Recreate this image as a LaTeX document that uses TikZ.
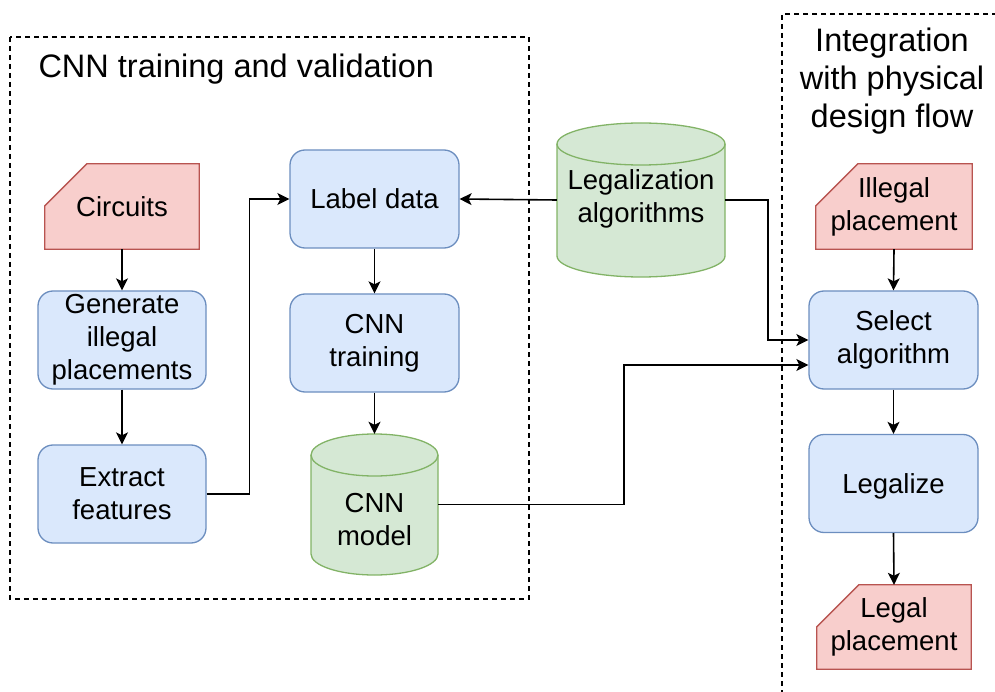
\documentclass[tikz,border=0pt]{standalone}
\usepackage{fontspec}
\setmainfont{Liberation Sans}
\usetikzlibrary{arrows.meta,calc}
\pgfdeclarelayer{bg}
\pgfsetlayers{bg,main}
\definecolor{bluefill}{HTML}{DAE8FC}
\definecolor{bluedraw}{HTML}{6C8EBF}
\definecolor{greenfill}{HTML}{D5E8D4}
\definecolor{greendraw}{HTML}{82B366}
\definecolor{redfill}{HTML}{F8CECC}
\definecolor{reddraw}{HTML}{B85450}
\tikzset{
  nodefont/.style={font=\fontsize{27.5}{33}\selectfont},
  titlefont/.style={font=\fontsize{32.5}{38}\selectfont},
  procbox/.style={nodefont, draw=bluedraw, fill=bluefill, line width=1.3pt, rounded corners=15pt,
    minimum width=168pt, minimum height=98pt, align=center, inner sep=0pt},
  cardnode/.style={nodefont, minimum width=155pt, minimum height=85pt, align=center, inner sep=0pt},
  cardshape/.style={draw=reddraw, fill=redfill, line width=1.3pt},
  cylshape/.style={draw=greendraw, fill=greenfill, line width=1.3pt},
  cylnode/.style={nodefont, align=center, inner sep=0pt},
  conn/.style={line width=1.6pt, -{Stealth[length=12pt,width=12pt,inset=3pt]}},
  frame/.style={line width=1.4pt, dash pattern=on 5pt off 4pt},
}
\begin{document}
\begin{tikzpicture}[x=1pt,y=-1pt]
\useasboundingbox (0,0) rectangle (995,692);

% frames
\draw[frame] (10,37) rectangle (529,599);
\draw[frame] (997,14) -- (782,14) -- (782,700);
\node[titlefont, anchor=base west] (t1) at (35,78) {CNN training and validation};
\node[titlefont, align=center] (t2) at (892,81.5) {Integration\\with physical\\design flow};

% blue boxes
\node[procbox] (gen) at (122,340) {Generate\\illegal\\placements};
\node[procbox] (ext) at (122,494) {Extract\\features};
\node[procbox, minimum width=169pt] (lab) at (374.5,199) {Label data};
\node[procbox, minimum width=169pt] (trn) at (374.5,343) {CNN\\training};
\node[procbox, minimum width=169pt, minimum height=98pt] (sel) at (893.5,340) {Select\\algorithm};
\node[procbox, minimum width=169pt, minimum height=98pt, text depth=0pt] (lgz) at (893.5,483.5) {Legalize};

% cards
\node[cardnode, minimum width=154pt] (circ) at (122,206.5) {Circuits};
\node[cardnode, minimum width=156pt] (ill) at (894,206.5) {Illegal\\placement};
\node[cardnode, minimum width=154pt, minimum height=84pt] (leg) at (894,627) {Legal\\placement};
\begin{pgfonlayer}{bg}
\foreach \c in {circ,ill,leg}{
  \draw[cardshape] ($(\c.north west)+(0,42)$) -- ($(\c.north west)+(42,0)$) -- (\c.north east)
    -- (\c.south east) -- (\c.south west) -- cycle;
}
% cylinder: legalization algorithms
\draw[cylshape] (557,144) -- (557,256) arc[start angle=180,end angle=360,x radius=84pt,y radius=21pt]
  -- (725,144) arc[start angle=0,end angle=180,x radius=84pt,y radius=21pt] -- cycle;
\draw[greendraw, line width=1.3pt] (557,144) arc[start angle=180,end angle=360,x radius=84pt,y radius=21pt];
% cylinder: CNN model
\draw[cylshape] (311,455) -- (311,554) arc[start angle=180,end angle=360,x radius=63.5pt,y radius=21pt]
  -- (438,455) arc[start angle=0,end angle=180,x radius=63.5pt,y radius=21pt] -- cycle;
\draw[greendraw, line width=1.3pt] (311,455) arc[start angle=180,end angle=360,x radius=63.5pt,y radius=21pt];
\end{pgfonlayer}
\node[minimum width=168pt, minimum height=154pt, inner sep=0pt] (lga) at (641,200) {};
\node[cylnode] (lgatext) at (641,199) {Legalization\\algorithms};
\node[minimum width=127pt, minimum height=141pt, inner sep=0pt] (mdl) at (374.5,504.5) {};
\node[cylnode] (mdltext) at (374.5,520) {CNN\\model};

% connectors
\draw[conn] (circ.south) -- (gen.north);
\draw[conn] (gen.south) -- (ext.north);
\draw[conn] (ext.east) -- ++(43,0) |- (lab.west);
\draw[conn] (lga.west) -- (lab.east);
\draw[conn] (lab.south) -- (trn.north);
\draw[conn] (trn.south) -- (mdl.north);
\draw[conn] (lga.east) -- ++(43,0) |- (sel.west);
\draw[conn] (mdl.east) -- ++(186,0) |- ($(sel.west)+(0,25)$);
\draw[conn] (ill.south) -- (sel.north);
\draw[conn] (sel.south) -- (lgz.north);
\draw[conn] (lgz.south) -- (leg.north);
\end{tikzpicture}
\end{document}
